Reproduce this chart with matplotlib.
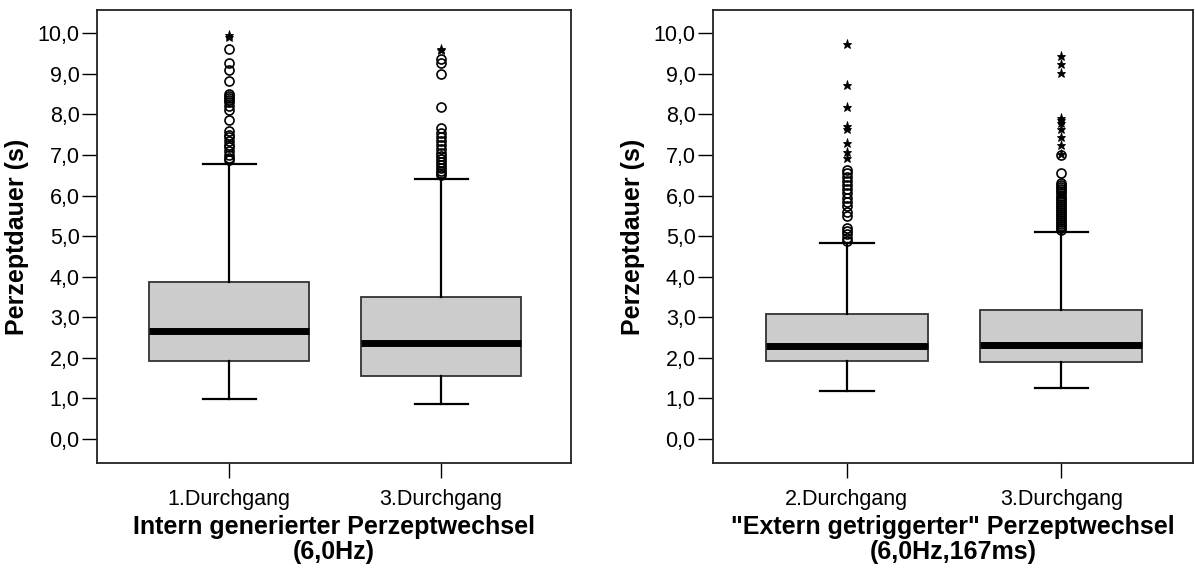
import matplotlib
matplotlib.use("Agg")
import matplotlib.pyplot as plt

plt.rcParams['font.family'] = ['Liberation Sans', 'DejaVu Sans']

# ---------------- data ----------------
left_labels = ["1.Durchgang", "3.Durchgang"]
left_q1 = [1.92, 1.55]
left_med = [2.67, 2.36]
left_q3 = [3.86, 3.50]
left_whislo = [0.99, 0.86]
left_whishi = [6.77, 6.40]
left_circles_1 = [9.60, 9.27, 9.09, 8.82, 8.50, 8.45, 8.40, 8.35, 8.30, 8.20, 8.10,
                  7.86, 7.60, 7.50, 7.45, 7.35, 7.25, 7.20, 7.10, 7.00, 6.92, 6.88]
left_stars_1 = [9.95, 9.90]
left_circles_2 = [9.37, 9.27, 9.00, 8.18, 7.66, 7.55, 7.45, 7.35, 7.25, 7.15, 7.05,
                  6.98, 6.90, 6.82, 6.75, 6.68, 6.60, 6.55, 6.50]
left_stars_2 = [9.62, 9.58]

right_labels = ["2.Durchgang", "3.Durchgang"]
right_q1 = [1.92, 1.90]
right_med = [2.29, 2.32]
right_q3 = [3.09, 3.18]
right_whislo = [1.19, 1.26]
right_whishi = [4.82, 5.11]
right_circles_1 = [6.63, 6.55, 6.45, 6.35, 6.25, 6.15, 6.05, 5.95, 5.85, 5.75, 5.60,
                   5.50, 5.20, 5.12, 5.05, 4.95, 4.88]
right_stars_1 = [9.73, 8.72, 8.18, 7.70, 7.63, 7.29, 7.08, 6.92]
right_circles_2 = [7.00, 6.56, 6.30, 6.25, 6.20, 6.15, 6.10, 6.05, 6.00, 5.95, 5.90,
                   5.85, 5.80, 5.75, 5.70, 5.65, 5.60, 5.55, 5.50, 5.45, 5.40, 5.35,
                   5.30, 5.25, 5.20, 5.15]
right_stars_2 = [9.43, 9.24, 9.02, 7.92, 7.85, 7.78, 7.64, 7.45, 7.24, 7.02]

yticks = [0, 1, 2, 3, 4, 5, 6, 7, 8, 9, 10]
ytick_labels = ["0,0", "1,0", "2,0", "3,0", "4,0", "5,0", "6,0", "7,0", "8,0", "9,0", "10,0"]

left_title = "Intern generierter Perzeptwechsel\n(6,0Hz)"
right_title = "\"Extern getriggerter\" Perzeptwechsel\n(6,0Hz,167ms)"
ylabel = "Perzeptdauer (s)"

# ---------------- figure ----------------
fig = plt.figure(figsize=(11.95, 5.70), dpi=100)
ax1 = fig.add_axes([97 / 1195, 107 / 570, 474 / 1195, 453 / 570])
ax2 = fig.add_axes([713 / 1195, 107 / 570, 480 / 1195, 453 / 570])


def draw(ax, labels, q1, med, q3, lo, hi, circles, stars, title):
    stats = []
    for i in range(len(labels)):
        stats.append(dict(med=med[i], q1=q1[i], q3=q3[i], whislo=lo[i],
                          whishi=hi[i], fliers=[], label=labels[i]))
    pos = [1, 2]
    ax.bxp(stats, positions=pos, widths=0.755, capwidths=0.25, patch_artist=True,
           showfliers=False,
           boxprops=dict(facecolor="#cccccc", edgecolor="#333333", linewidth=1.3),
           medianprops=dict(color="black", linewidth=5.0, solid_capstyle="butt"),
           whiskerprops=dict(color="black", linewidth=1.6),
           capprops=dict(color="black", linewidth=1.6))
    for p, c, s in zip(pos, circles, stars):
        ax.plot([p] * len(c), c, linestyle="none", marker="o", markersize=6.5,
                markerfacecolor="none", markeredgecolor="black", markeredgewidth=1.2)
        ax.plot([p] * len(s), s, linestyle="none", marker="*", markersize=6.5,
                markerfacecolor="black", markeredgecolor="black", markeredgewidth=0.6)
    ax.set_xlim(0.377, 2.613)
    ax.set_ylim(-0.59, 10.57)
    ax.set_yticks(yticks)
    ax.set_yticklabels(ytick_labels)
    ax.set_xticks(pos)
    ax.set_xticklabels(labels)
    ax.tick_params(axis="both", direction="out", length=11, width=1.0,
                   labelsize=15.5, colors="black")
    ax.tick_params(axis="y", pad=1.5)
    ax.tick_params(axis="x", pad=8)
    for sp in ax.spines.values():
        sp.set_linewidth(1.3)
        sp.set_color("#222222")
    ax.set_xlabel(title, fontsize=18, fontweight="bold", labelpad=3,
                  linespacing=1.05)
    ax.set_ylabel(ylabel, fontsize=18, fontweight="bold", labelpad=6)


draw(ax1, left_labels, left_q1, left_med, left_q3, left_whislo, left_whishi,
     [left_circles_1, left_circles_2], [left_stars_1, left_stars_2], left_title)
draw(ax2, right_labels, right_q1, right_med, right_q3, right_whislo, right_whishi,
     [right_circles_1, right_circles_2], [right_stars_1, right_stars_2], right_title)

fig.savefig("out.png", dpi=100)
